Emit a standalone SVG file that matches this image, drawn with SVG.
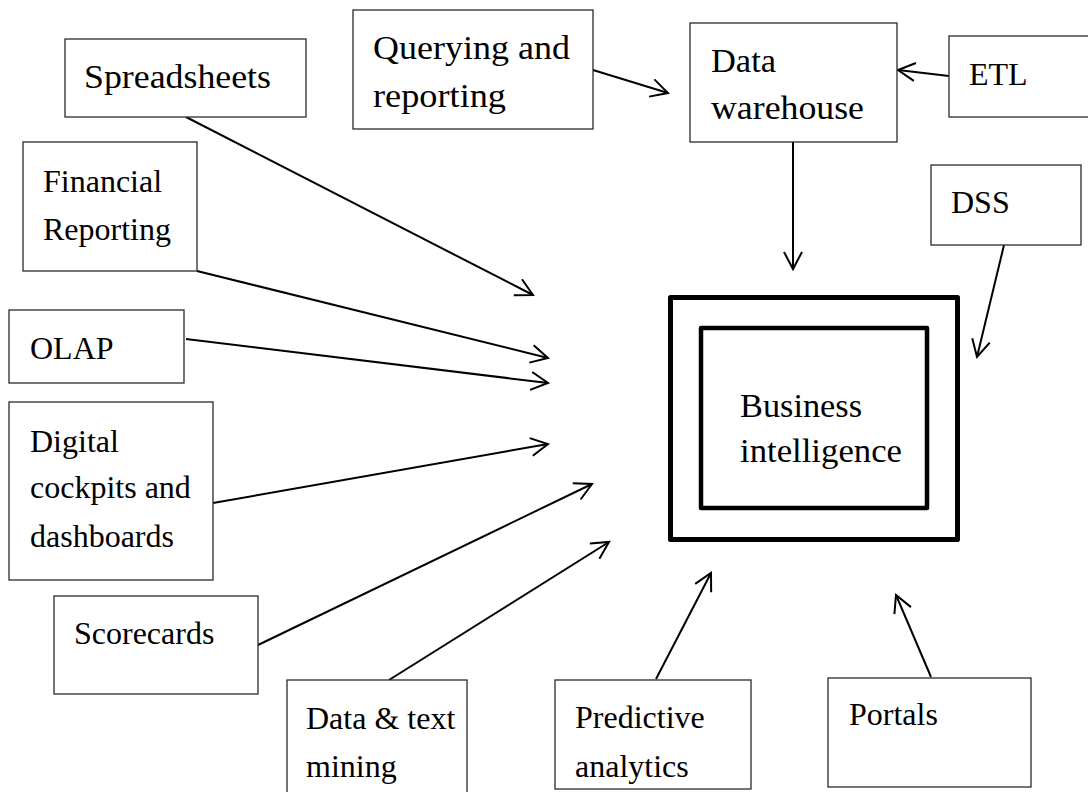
<svg xmlns="http://www.w3.org/2000/svg" width="1088" height="792" viewBox="0 0 1088 792">
  <style>
    .box { fill: #fff; stroke: #2a2a2a; stroke-width: 1.3; }
    .core { fill: none; stroke: #000; stroke-linejoin: round; }
    .lbl { font-family: "Liberation Serif", "Times New Roman", serif; font-size: 32px; fill: #000; }
    .wide { font-size: 34px; }
    .edge { fill: none; stroke: #000; stroke-width: 2; marker-end: url(#arrow); }
  </style>
  <defs>
    <marker id="arrow" viewBox="-20 -11 22 22" refX="0" refY="0" markerWidth="22" markerHeight="22" markerUnits="userSpaceOnUse" orient="auto" overflow="visible">
      <path d="M-17,-9 L0,0 L-17,9" fill="none" stroke="#000" stroke-width="2" stroke-linejoin="miter"/>
    </marker>
  </defs>
  <rect width="1088" height="792" fill="#fff"/>

  <!-- connectors -->
  <g id="connectors">
    <line class="edge" x1="186" y1="117" x2="533" y2="295"/>
    <line class="edge" x1="197" y1="271" x2="548" y2="358"/>
    <line class="edge" x1="186" y1="339" x2="548" y2="383"/>
    <line class="edge" x1="213" y1="503" x2="548" y2="444"/>
    <line class="edge" x1="258" y1="645" x2="592" y2="484"/>
    <line class="edge" x1="389" y1="680" x2="609" y2="542"/>
    <line class="edge" x1="656" y1="679" x2="711" y2="573"/>
    <line class="edge" x1="931" y1="677" x2="896" y2="595"/>
    <line class="edge" x1="793" y1="142" x2="793" y2="269"/>
    <line class="edge" x1="949" y1="76" x2="898" y2="70"/>
    <line class="edge" x1="593" y1="70" x2="668" y2="93"/>
    <line class="edge" x1="1004" y1="245" x2="977" y2="357"/>
  </g>

  <!-- central node: double frame -->
  <g id="business-intelligence">
    <rect class="core" x="670.5" y="297.5" width="287" height="242" stroke-width="5"/>
    <rect class="core" x="701" y="328" width="226" height="180" stroke-width="4.5"/>
    <text class="lbl wide" x="740" y="417" textLength="122" lengthAdjust="spacingAndGlyphs">Business</text>
    <text class="lbl wide" x="740" y="462" textLength="162" lengthAdjust="spacingAndGlyphs">intelligence</text>
  </g>

  <g id="spreadsheets">
    <rect class="box" x="65" y="39" width="241" height="78"/>
    <text class="lbl wide" x="84" y="88" textLength="187" lengthAdjust="spacingAndGlyphs">Spreadsheets</text>
  </g>

  <g id="financial-reporting">
    <rect class="box" x="23" y="142" width="174" height="129"/>
    <text class="lbl" x="43" y="192">Financial</text>
    <text class="lbl" x="43" y="240">Reporting</text>
  </g>

  <g id="querying-reporting">
    <rect class="box" x="353" y="10" width="240" height="119"/>
    <text class="lbl wide" x="373" y="59" textLength="197" lengthAdjust="spacingAndGlyphs">Querying and</text>
    <text class="lbl wide" x="373" y="107" textLength="133" lengthAdjust="spacingAndGlyphs">reporting</text>
  </g>

  <g id="data-warehouse">
    <rect class="box" x="690" y="23" width="207" height="119"/>
    <text class="lbl wide" x="711" y="72" textLength="65" lengthAdjust="spacingAndGlyphs">Data</text>
    <text class="lbl wide" x="711" y="119" textLength="153" lengthAdjust="spacingAndGlyphs">warehouse</text>
  </g>

  <g id="etl">
    <rect class="box" x="949" y="36" width="150" height="81"/>
    <text class="lbl" x="969" y="85">ETL</text>
  </g>

  <g id="dss">
    <rect class="box" x="931" y="165" width="150" height="80"/>
    <text class="lbl" x="951" y="213">DSS</text>
  </g>

  <g id="olap">
    <rect class="box" x="9" y="310" width="175" height="73"/>
    <text class="lbl" x="30" y="359">OLAP</text>
  </g>

  <g id="digital-cockpits">
    <rect class="box" x="9" y="402" width="204" height="178"/>
    <text class="lbl" x="30" y="452">Digital</text>
    <text class="lbl" x="30" y="498">cockpits and</text>
    <text class="lbl" x="30" y="547">dashboards</text>
  </g>

  <g id="scorecards">
    <rect class="box" x="54" y="596" width="204" height="98"/>
    <text class="lbl" x="74" y="644">Scorecards</text>
  </g>

  <g id="data-text-mining">
    <rect class="box" x="287" y="680" width="180" height="130"/>
    <text class="lbl" x="306" y="729">Data &amp; text</text>
    <text class="lbl" x="306" y="777">mining</text>
  </g>

  <g id="predictive-analytics">
    <rect class="box" x="555" y="680" width="196" height="109"/>
    <text class="lbl" x="575" y="728">Predictive</text>
    <text class="lbl" x="575" y="777">analytics</text>
  </g>

  <g id="portals">
    <rect class="box" x="828" y="678" width="203" height="109"/>
    <text class="lbl" x="849" y="725">Portals</text>
  </g>
</svg>
